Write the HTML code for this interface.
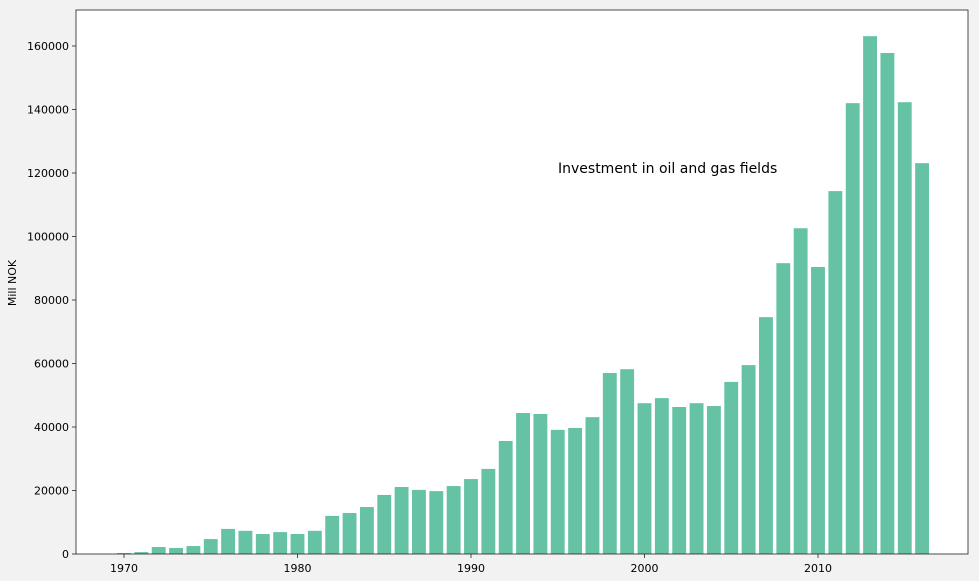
<!DOCTYPE html>
<html><head><meta charset="utf-8"><style>
body{margin:0;background:#f2f2f2;width:979px;height:581px;overflow:hidden;font-family:"DejaVu Sans",sans-serif}
</style></head><body>
<svg id="chart" width="979" height="581" xmlns="http://www.w3.org/2000/svg" style="display:block">
<rect x="76" y="10" width="892" height="544" fill="#fff"/>
<g id="bars"></g>
<g id="axes"></g>
<text x="558" y="173" font-size="14" fill="#000">Investment in oil and gas fields</text>
<text transform="translate(16,283) rotate(-90)" text-anchor="middle" font-size="11">Mill NOK</text>
</svg>
<script>
const years=[1970,1971,1972,1973,1974,1975,1976,1977,1978,1979,1980,1981,1982,1983,1984,1985,1986,1987,1988,1989,1990,1991,1992,1993,1994,1995,1996,1997,1998,1999,2000,2001,2002,2003,2004,2005,2006,2007,2008,2009,2010,2011,2012,2013,2014,2015,2016];
const investment=[300,600,2200,1900,2500,4700,7900,7300,6300,6900,6300,7300,12000,12900,14800,18600,21100,20200,19800,21400,23600,26800,35600,44400,44100,39100,39700,43100,57000,58200,47500,49100,46300,47500,46600,54200,59500,74600,91600,102600,90400,114300,142000,163100,157800,142300,123100];
const xTicks=[1970,1980,1990,2000,2010];
const yTicks=[0,20000,40000,60000,80000,100000,120000,140000,160000];
const NS="http://www.w3.org/2000/svg";
const xs=y=>124+(y-1970)*17.35;
const ys=v=>554-v*508/160000;
const bw=0.8*17.35;
const bars=document.getElementById('bars'),axes=document.getElementById('axes');
function mk(tag,attrs,parent){const e=document.createElementNS(NS,tag);for(const k in attrs)e.setAttribute(k,attrs[k]);parent.appendChild(e);return e;}
years.forEach((y,i)=>{
 const r=mk('rect',{x:xs(y)-bw/2,y:ys(investment[i]),width:bw,height:554-ys(investment[i]),fill:'#66c2a5'},bars);
 
 
});
const frame=mk('rect',{x:76,y:10,width:892,height:544,fill:'none',stroke:'#222','stroke-width':0.8},axes);


xTicks.forEach(t=>{
 mk('line',{x1:xs(t),x2:xs(t),y1:554,y2:558,stroke:'#222','stroke-width':0.8},axes);
 const tx=mk('text',{x:xs(t),y:572,'text-anchor':'middle','font-size':11},axes);
 tx.textContent=t;
 
 
});
yTicks.forEach(t=>{
 mk('line',{x1:72,x2:76,y1:ys(t),y2:ys(t),stroke:'#222','stroke-width':0.8},axes);
 const tx=mk('text',{x:69,y:ys(t)+4,'text-anchor':'end','font-size':11},axes);
 tx.textContent=t;
 
 
});
</script>
</body></html>
